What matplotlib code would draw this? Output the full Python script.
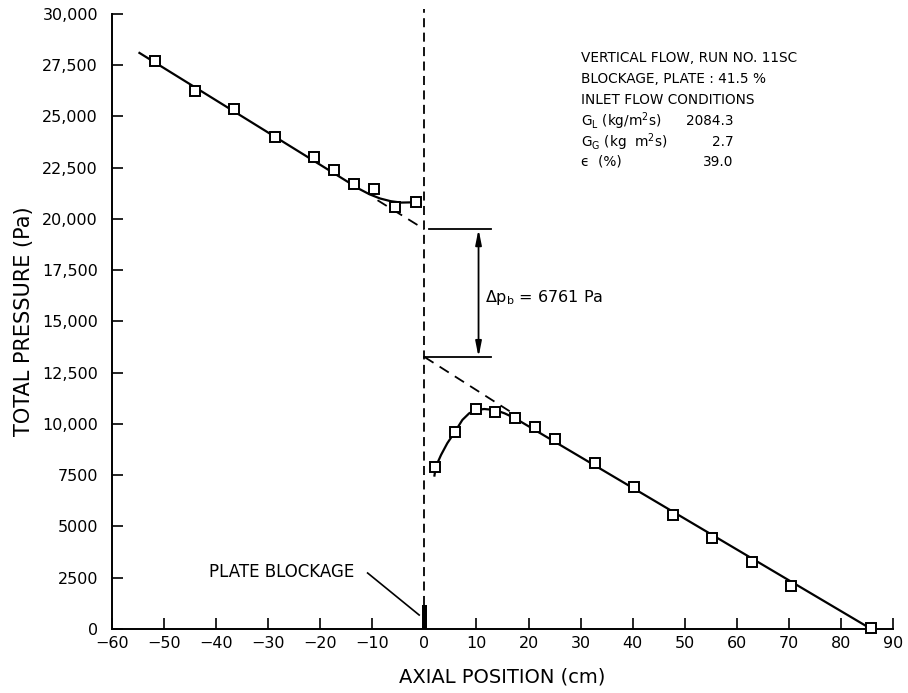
import matplotlib
matplotlib.use("Agg")
import matplotlib.pyplot as plt

# --------------------------------------------------
# Data
# --------------------------------------------------
# measured points upstream / downstream of the plate
up_x = [-51.7, -44.1, -36.5, -28.6, -21.2, -17.3, -13.5, -9.7, -5.7, -1.7]
up_p = [27720, 26260, 25370, 24020, 23040, 22390, 21690, 21450, 20600, 20820]
down_x = [2.1, 5.9, 9.9, 13.6, 17.4, 21.2, 25.0, 32.8, 40.2, 47.7, 55.3, 63.0, 70.5, 85.8]
down_p = [7890, 9630, 10720, 10600, 10280, 9870, 9250, 8080, 6910, 5560, 4420, 3270, 2100, 50]

# hand-drawn fit curves
up_fit_x = [-54.9, -12.5, -10.5, -8.5, -6.5, -4.5, -1.7]
up_fit_p = [28130, 21465, 21200, 21000, 20870, 20800, 20815]
down_fit_x = [1.9, 2.2, 3.2, 4.4, 5.9, 7.3, 8.6, 9.9, 11.5, 13.6, 15.4, 17.4, 85.6]
down_fit_p = [7430, 7920, 8490, 9060, 9630, 10200, 10520, 10680, 10730, 10680, 10520, 10280, 30]

# dashed extrapolations to the plate
up_ext_x = [-9.0, 0.0]
up_ext_p = [20915, 19500]
down_ext_x = [0.0, 17.0]
down_ext_p = [13270, 10520]

p_upper = 19500
p_lower = 13270
plate_height = 1150

x_ticks = [-60, -50, -40, -30, -20, -10, 0, 10, 20, 30, 40, 50, 60, 70, 80, 90]
y_ticks = [0, 2500, 5000, 7500, 10000, 12500, 15000, 17500, 20000, 22500, 25000, 27500, 30000]
y_labels = ["0", "2500", "5000", "7500", "10,000", "12,500", "15,000", "17,500",
            "20,000", "22,500", "25,000", "27,500", "30,000"]

info_left = ["VERTICAL FLOW, RUN NO. 11SC",
             "BLOCKAGE, PLATE : 41.5 %",
             "INLET FLOW CONDITIONS",
             r"$\mathregular{G_L}$ (kg/m$^\mathregular{2}$s)",
             r"$\mathregular{G_G}$ (kg  m$^\mathregular{2}$s)",
             "\u03f5  (%)"]
info_right = ["", "", "", "2084.3", "2.7", "39.0"]

# --------------------------------------------------
# Plot
# --------------------------------------------------
fig = plt.figure(figsize=(9.08, 6.93), dpi=100)
ax = fig.add_axes([0.1233, 0.0924, 0.8602, 0.8874])

ax.plot(up_fit_x, up_fit_p, color="black", lw=1.6, solid_capstyle="butt")
ax.plot(down_fit_x, down_fit_p, color="black", lw=1.6, solid_capstyle="butt")
ax.plot(up_ext_x, up_ext_p, color="black", lw=1.3, linestyle=(0, (6, 4)))
ax.plot(down_ext_x, down_ext_p, color="black", lw=1.3, linestyle=(0, (6, 4)))

ax.plot(up_x, up_p, linestyle="none", marker="s", ms=7.5, mfc="white",
        mec="black", mew=1.4, zorder=5)
ax.plot(down_x, down_p, linestyle="none", marker="s", ms=7.5, mfc="white",
        mec="black", mew=1.4, zorder=5, clip_on=False)

# plate position and blockage
ax.plot([0, 0], [plate_height, 30250], color="black", lw=1.3,
        linestyle=(0, (5, 3)), clip_on=False)
ax.bar([0], [plate_height], width=1.1, color="black", zorder=4)
ax.text(-41.3, 2780, "PLATE BLOCKAGE", fontsize=12, ha="left", va="center")
ax.plot([-10.9, -1.0], [2730, 680], color="black", lw=1.2)

# pressure drop across the plate
ax.plot([0.9, 12.7], [p_upper, p_upper], color="black", lw=1.3)
ax.plot([0.0, 12.7], [p_lower, p_lower], color="black", lw=1.3)
ax.annotate("", xy=(10.4, p_lower), xytext=(10.4, p_upper),
            arrowprops=dict(arrowstyle="<|-|>,head_length=0.9,head_width=0.18",
                            color="black", lw=1.3, shrinkA=0, shrinkB=0))
ax.text(11.7, 16150, r"$\Delta\mathregular{p_b}$ = 6761 Pa", fontsize=11.5,
        ha="left", va="center")

# run information
row_y = [27855, 26830, 25806, 24782, 23758, 22781]
for yy, left, right in zip(row_y, info_left, info_right):
    ax.text(30.1, yy, left, fontsize=9.8, ha="left", va="center")
    if right:
        ax.text(59.3, yy, right, fontsize=9.8, ha="right", va="center")

# axes
ax.set_xlim(-60, 90)
ax.set_ylim(0, 30000)
ax.set_xticks(x_ticks)
ax.set_yticks(y_ticks)
ax.set_yticklabels(y_labels)
ax.spines["top"].set_visible(False)
ax.spines["right"].set_visible(False)
for s in ("left", "bottom"):
    ax.spines[s].set_linewidth(1.4)
ax.tick_params(direction="in", length=8, width=1.2, labelsize=11.5)
ax.tick_params(axis="x", pad=5)
ax.tick_params(axis="y", pad=10)
ax.set_xlabel("AXIAL POSITION (cm)", fontsize=14, labelpad=12)
ax.set_ylabel("TOTAL PRESSURE (Pa)", fontsize=15, labelpad=6)

fig.savefig("out.png", dpi=100)
